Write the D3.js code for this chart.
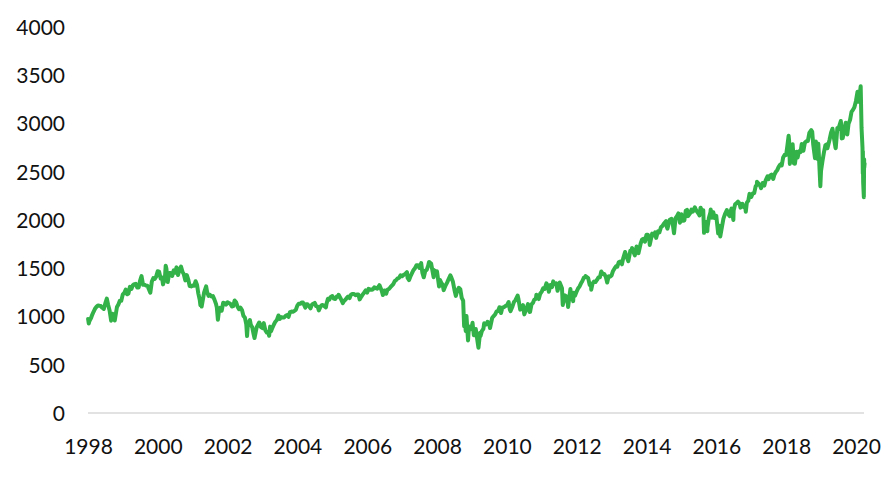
<!DOCTYPE html>
<html>
<head>
<meta charset="utf-8">
<script src="https://cdn.jsdelivr.net/npm/d3@7"></script>
<style>
  html, body { margin: 0; padding: 0; background: #fff; }
  svg { display: block; }
  text { font-family: Lato, "Open Sans", sans-serif; }
</style>
</head>
<body>
<svg id="chart" width="889" height="477"></svg>
<script>
// Tick labels
const yTicks = [0, 500, 1000, 1500, 2000, 2500, 3000, 3500, 4000];
const xTickYears = [1998, 2000, 2002, 2004, 2006, 2008, 2010, 2012, 2014, 2016, 2018, 2020];

const points = [
["1998-01-02",975],["1998-01-09",927],["1998-01-15",950],["1998-01-31",980],["1998-02-15",1020],["1998-02-28",1049],["1998-03-15",1080],["1998-03-31",1101],["1998-04-15",1115],["1998-04-30",1111],["1998-05-15",1108],["1998-05-31",1090],["1998-06-15",1078],["1998-06-30",1133],["1998-07-17",1186],["1998-07-31",1120],["1998-08-15",1062],["1998-08-31",957],["1998-09-15",1029],["1998-09-30",1017],["1998-10-08",959],["1998-10-31",1098],["1998-11-15",1125],["1998-11-30",1163],["1998-12-15",1162],["1998-12-31",1229],
["1999-01-15",1243],["1999-01-31",1279],["1999-02-15",1230],["1999-02-28",1238],["1999-03-15",1307],["1999-03-31",1286],["1999-04-15",1323],["1999-04-30",1335],["1999-05-15",1338],["1999-05-31",1301],["1999-06-15",1301],["1999-06-30",1372],["1999-07-15",1418],["1999-07-31",1328],["1999-08-15",1330],["1999-08-31",1320],["1999-09-15",1318],["1999-09-30",1282],["1999-10-15",1247],["1999-10-31",1362],["1999-11-15",1397],["1999-11-30",1389],["1999-12-15",1413],["1999-12-31",1469],
["2000-01-15",1465],["2000-01-31",1394],["2000-02-15",1402],["2000-02-25",1333],["2000-03-15",1392],["2000-03-24",1527],["2000-03-31",1498],["2000-04-14",1357],["2000-04-30",1452],["2000-05-15",1452],["2000-05-31",1420],["2000-06-15",1478],["2000-06-30",1454],["2000-07-15",1509],["2000-07-31",1430],["2000-08-15",1484],["2000-08-31",1517],["2000-09-15",1465],["2000-09-30",1436],["2000-10-15",1374],["2000-10-31",1429],["2000-11-15",1383],["2000-11-30",1315],["2000-12-15",1312],["2000-12-31",1320],
["2001-01-15",1318],["2001-01-31",1366],["2001-02-15",1326],["2001-02-28",1240],["2001-03-15",1173],["2001-03-22",1117],["2001-03-31",1160],["2001-04-04",1103],["2001-04-30",1249],["2001-05-21",1312],["2001-05-31",1256],["2001-06-15",1214],["2001-06-30",1224],["2001-07-15",1208],["2001-07-31",1211],["2001-08-15",1178],["2001-08-31",1134],["2001-09-10",1092],["2001-09-21",966],["2001-09-30",1041],["2001-10-15",1089],["2001-10-31",1060],["2001-11-15",1142],["2001-11-30",1139],["2001-12-15",1124],["2001-12-31",1148],
["2002-01-15",1139],["2002-01-31",1130],["2002-02-15",1104],["2002-02-28",1107],["2002-03-15",1166],["2002-03-31",1147],["2002-04-15",1102],["2002-04-30",1076],["2002-05-15",1091],["2002-05-31",1067],["2002-06-15",1007],["2002-06-30",990],["2002-07-15",918],["2002-07-23",797],["2002-07-31",912],["2002-08-22",963],["2002-08-31",916],["2002-09-15",889],["2002-09-30",815],["2002-10-09",777],["2002-10-31",886],["2002-11-27",938],["2002-11-30",936],["2002-12-15",890],["2002-12-31",880],
["2003-01-14",931],["2003-01-31",856],["2003-02-15",834],["2003-02-28",841],["2003-03-11",800],["2003-03-21",895],["2003-03-31",848],["2003-04-15",885],["2003-04-30",917],["2003-05-15",946],["2003-05-31",964],["2003-06-17",1011],["2003-06-30",975],["2003-07-15",994],["2003-07-31",990],["2003-08-15",990],["2003-08-31",1008],["2003-09-15",1015],["2003-09-30",996],["2003-10-15",1046],["2003-10-31",1051],["2003-11-15",1050],["2003-11-30",1058],["2003-12-15",1068],["2003-12-31",1112],
["2004-01-15",1133],["2004-01-31",1131],["2004-02-15",1146],["2004-02-28",1145],["2004-03-24",1091],["2004-03-31",1126],["2004-04-15",1128],["2004-04-30",1107],["2004-05-17",1084],["2004-05-31",1121],["2004-06-15",1133],["2004-06-30",1141],["2004-07-15",1107],["2004-07-31",1102],["2004-08-12",1064],["2004-08-31",1104],["2004-09-15",1120],["2004-09-30",1115],["2004-10-25",1095],["2004-10-31",1130],["2004-11-15",1184],["2004-11-30",1174],["2004-12-15",1203],["2004-12-31",1212],
["2005-01-15",1185],["2005-01-31",1181],["2005-02-15",1206],["2005-02-28",1204],["2005-03-07",1225],["2005-03-31",1181],["2005-04-20",1138],["2005-04-30",1157],["2005-05-15",1172],["2005-05-31",1192],["2005-06-15",1207],["2005-06-30",1191],["2005-07-15",1228],["2005-07-31",1234],["2005-08-15",1233],["2005-08-31",1220],["2005-09-15",1228],["2005-09-30",1229],["2005-10-13",1177],["2005-10-31",1207],["2005-11-15",1229],["2005-11-30",1249],["2005-12-15",1270],["2005-12-31",1248],
["2006-01-15",1287],["2006-01-31",1280],["2006-02-15",1276],["2006-02-28",1281],["2006-03-15",1303],["2006-03-31",1295],["2006-04-15",1289],["2006-04-30",1311],["2006-05-08",1325],["2006-05-31",1270],["2006-06-13",1223],["2006-06-30",1270],["2006-07-18",1236],["2006-07-31",1277],["2006-08-15",1285],["2006-08-31",1304],["2006-09-15",1320],["2006-09-30",1336],["2006-10-15",1366],["2006-10-31",1378],["2006-11-15",1396],["2006-11-30",1401],["2006-12-15",1427],["2006-12-31",1418],
["2007-01-15",1431],["2007-01-31",1438],["2007-02-20",1459],["2007-02-27",1399],["2007-03-14",1377],["2007-03-31",1421],["2007-04-15",1452],["2007-04-30",1482],["2007-05-15",1501],["2007-05-31",1531],["2007-06-15",1532],["2007-06-30",1503],["2007-07-19",1553],["2007-07-31",1455],["2007-08-15",1406],["2007-08-31",1474],["2007-09-15",1484],["2007-09-30",1527],["2007-10-09",1565],["2007-10-31",1549],["2007-11-26",1407],["2007-11-30",1481],["2007-12-15",1467],["2007-12-31",1468],
["2008-01-22",1310],["2008-01-31",1379],["2008-02-15",1349],["2008-02-28",1331],["2008-03-10",1273],["2008-03-31",1323],["2008-04-15",1351],["2008-04-30",1386],["2008-05-19",1427],["2008-05-31",1400],["2008-06-15",1360],["2008-06-30",1280],["2008-07-15",1214],["2008-07-31",1267],["2008-08-15",1298],["2008-08-31",1283],["2008-09-15",1193],["2008-09-30",1165],["2008-10-10",899],["2008-10-13",1003],["2008-10-27",848],["2008-10-31",969],["2008-11-04",1005],["2008-11-20",752],["2008-11-30",896],["2008-12-15",868],["2008-12-31",903],
["2009-01-06",935],["2009-01-20",805],["2009-01-31",826],["2009-02-09",870],["2009-02-28",735],["2009-03-09",677],["2009-03-26",832],["2009-03-31",798],["2009-04-15",852],["2009-04-30",873],["2009-05-08",929],["2009-05-31",919],["2009-06-12",946],["2009-06-30",919],["2009-07-08",880],["2009-07-31",987],["2009-08-15",1004],["2009-08-31",1021],["2009-09-15",1052],["2009-09-30",1057],["2009-10-15",1096],["2009-10-31",1036],["2009-11-15",1093],["2009-11-30",1096],["2009-12-15",1108],["2009-12-31",1115],
["2010-01-19",1150],["2010-01-31",1074],["2010-02-08",1056],["2010-02-28",1104],["2010-03-15",1150],["2010-03-31",1169],["2010-04-23",1217],["2010-04-30",1187],["2010-05-20",1071],["2010-05-31",1089],["2010-06-18",1117],["2010-06-30",1031],["2010-07-02",1022],["2010-07-31",1102],["2010-08-09",1128],["2010-08-26",1047],["2010-08-31",1049],["2010-09-15",1125],["2010-09-30",1141],["2010-10-15",1176],["2010-10-31",1183],["2010-11-05",1225],["2010-11-30",1181],["2010-12-15",1236],["2010-12-31",1258],
["2011-01-15",1293],["2011-01-31",1286],["2011-02-18",1343],["2011-02-28",1327],["2011-03-16",1257],["2011-03-31",1326],["2011-04-18",1305],["2011-04-30",1364],["2011-05-15",1338],["2011-05-31",1345],["2011-06-15",1266],["2011-06-30",1321],["2011-07-07",1353],["2011-07-31",1292],["2011-08-08",1119],["2011-08-31",1219],["2011-09-15",1209],["2011-09-30",1131],["2011-10-03",1099],["2011-10-27",1285],["2011-10-31",1253],["2011-11-25",1159],["2011-11-30",1247],["2011-12-15",1216],["2011-12-31",1258],
["2012-01-15",1290],["2012-01-31",1312],["2012-02-15",1344],["2012-02-28",1366],["2012-03-15",1402],["2012-03-31",1408],["2012-04-02",1419],["2012-04-30",1398],["2012-05-15",1330],["2012-05-31",1310],["2012-06-01",1278],["2012-06-15",1343],["2012-06-30",1362],["2012-07-15",1357],["2012-07-31",1379],["2012-08-15",1405],["2012-08-31",1407],["2012-09-14",1466],["2012-09-30",1441],["2012-10-15",1440],["2012-10-31",1412],["2012-11-15",1353],["2012-11-30",1416],["2012-12-15",1413],["2012-12-31",1426],
["2013-01-15",1472],["2013-01-31",1498],["2013-02-15",1520],["2013-02-28",1515],["2013-03-15",1561],["2013-03-31",1569],["2013-04-18",1541],["2013-04-30",1598],["2013-05-21",1669],["2013-05-31",1631],["2013-06-24",1573],["2013-06-30",1606],["2013-07-15",1682],["2013-07-31",1686],["2013-08-02",1710],["2013-08-31",1633],["2013-09-18",1725],["2013-09-30",1682],["2013-10-08",1656],["2013-10-31",1757],["2013-11-15",1798],["2013-11-30",1806],["2013-12-15",1775],["2013-12-31",1848],
["2014-01-15",1848],["2014-01-31",1783],["2014-02-03",1742],["2014-02-28",1859],["2014-03-15",1841],["2014-03-31",1872],["2014-04-11",1815],["2014-04-30",1884],["2014-05-15",1871],["2014-05-31",1924],["2014-06-15",1937],["2014-06-30",1960],["2014-07-24",1988],["2014-07-31",1931],["2014-08-07",1910],["2014-08-31",2003],["2014-09-18",2011],["2014-09-30",1972],["2014-10-15",1862],["2014-10-31",2018],["2014-11-15",2039],["2014-11-30",2068],["2014-12-16",1972],["2014-12-31",2059],
["2015-01-15",1992],["2015-01-31",1995],["2015-02-15",2097],["2015-02-28",2105],["2015-03-11",2040],["2015-03-31",2068],["2015-04-15",2107],["2015-04-30",2086],["2015-05-21",2131],["2015-05-31",2107],["2015-06-15",2085],["2015-06-30",2063],["2015-07-08",2047],["2015-07-20",2128],["2015-07-31",2104],["2015-08-17",2102],["2015-08-25",1867],["2015-08-31",1972],["2015-09-15",1979],["2015-09-29",1884],["2015-09-30",1920],["2015-10-15",2023],["2015-10-31",2079],["2015-11-03",2109],["2015-11-15",2023],["2015-11-30",2080],["2015-12-14",2021],["2015-12-31",2044],
["2016-01-20",1859],["2016-01-31",1940],["2016-02-11",1829],["2016-02-29",1932],["2016-03-15",2015],["2016-03-31",2060],["2016-04-20",2102],["2016-04-30",2065],["2016-05-19",2040],["2016-05-31",2097],["2016-06-08",2119],["2016-06-27",2001],["2016-06-30",2099],["2016-07-15",2162],["2016-07-31",2174],["2016-08-15",2190],["2016-08-31",2171],["2016-09-09",2128],["2016-09-30",2168],["2016-10-15",2133],["2016-10-31",2126],["2016-11-04",2085],["2016-11-15",2180],["2016-11-30",2199],["2016-12-13",2271],["2016-12-31",2239],
["2017-01-15",2275],["2017-01-31",2279],["2017-02-15",2349],["2017-02-28",2364],["2017-03-01",2396],["2017-03-31",2363],["2017-04-13",2329],["2017-04-30",2384],["2017-05-17",2357],["2017-05-31",2412],["2017-06-19",2453],["2017-06-30",2423],["2017-07-15",2459],["2017-07-31",2470],["2017-08-18",2426],["2017-08-31",2472],["2017-09-15",2500],["2017-09-30",2519],["2017-10-15",2553],["2017-10-31",2575],["2017-11-15",2565],["2017-11-30",2648],["2017-12-15",2675],["2017-12-31",2674],
["2018-01-15",2786],["2018-01-26",2873],["2018-01-31",2824],["2018-02-08",2581],["2018-02-26",2780],["2018-02-28",2714],["2018-03-09",2786],["2018-03-23",2588],["2018-03-31",2641],["2018-04-02",2582],["2018-04-18",2708],["2018-04-30",2648],["2018-05-15",2711],["2018-05-31",2705],["2018-06-12",2787],["2018-06-30",2718],["2018-07-15",2801],["2018-07-31",2816],["2018-08-15",2818],["2018-08-31",2902],["2018-09-20",2931],["2018-09-30",2914],["2018-10-10",2786],["2018-10-29",2641],["2018-10-31",2712],["2018-11-07",2814],["2018-11-23",2633],["2018-11-30",2760],["2018-12-03",2790],["2018-12-24",2351],["2018-12-31",2507],
["2019-01-15",2610],["2019-01-31",2704],["2019-02-15",2776],["2019-02-28",2784],["2019-03-08",2743],["2019-03-31",2834],["2019-04-15",2905],["2019-04-30",2946],["2019-05-15",2851],["2019-05-31",2752],["2019-06-03",2744],["2019-06-20",2954],["2019-06-30",2942],["2019-07-26",3026],["2019-07-31",2980],["2019-08-05",2845],["2019-08-15",2848],["2019-08-31",2926],["2019-09-15",3007],["2019-09-30",2977],["2019-10-02",2887],["2019-10-15",2996],["2019-10-31",3038],["2019-11-15",3120],["2019-11-30",3141],["2019-12-15",3168],["2019-12-31",3231],
["2020-01-17",3330],["2020-01-31",3226],["2020-02-19",3386],["2020-02-28",2954],["2020-03-09",2747],["2020-03-12",2481],["2020-03-13",2711],["2020-03-16",2386],["2020-03-23",2237],["2020-03-26",2630],["2020-03-27",2541],["2020-03-31",2585]
];

const parse = d3.timeParse("%Y-%m-%d");
const data = points.map(p => ({ date: parse(p[0]), value: p[1] }));

const svg = d3.select("#chart");

const x = d3.scaleTime()
  .domain([new Date(1998, 0, 1), new Date(2020, 0, 1)])
  .range([88, 856]);
const y = d3.scaleLinear().domain([0, 4000]).range([413, 27]);

// baseline
svg.append("line")
  .attr("x1", 88).attr("x2", 864)
  .attr("y1", y(0)).attr("y2", y(0))
  .attr("stroke", "#d9d9d9").attr("stroke-width", 1.5);

// y labels
const yAxis = d3.axisLeft(y).tickValues(yTicks).tickSize(0).tickPadding(0).tickFormat(d3.format("d"));
const gy = svg.append("g").attr("transform", "translate(65,0)").call(yAxis);
gy.select(".domain").remove();
gy.selectAll("text")
  .attr("font-family", "Lato, 'Open Sans', sans-serif")
  .attr("font-size", 21).attr("fill", "#111").attr("dy", "0.35em");

// x labels
const xAxis = d3.axisBottom(x)
  .tickValues(xTickYears.map(yr => new Date(yr, 0, 1)))
  .tickSize(0).tickPadding(0).tickFormat(d3.timeFormat("%Y"));
const gx = svg.append("g").attr("transform", "translate(0,447)").call(xAxis);
gx.select(".domain").remove();
gx.selectAll("text")
  .attr("font-family", "Lato, 'Open Sans', sans-serif")
  .attr("font-size", 21).attr("fill", "#111").attr("dy", "0.35em");

// line
const line = d3.line().x(d => x(d.date)).y(d => y(d.value));
svg.append("path")
  .datum(data)
  .attr("fill", "none")
  .attr("stroke", "#34b24a")
  .attr("stroke-width", 4)
  .attr("stroke-linejoin", "round")
  .attr("stroke-linecap", "round")
  .attr("d", line);
</script>
</body>
</html>
